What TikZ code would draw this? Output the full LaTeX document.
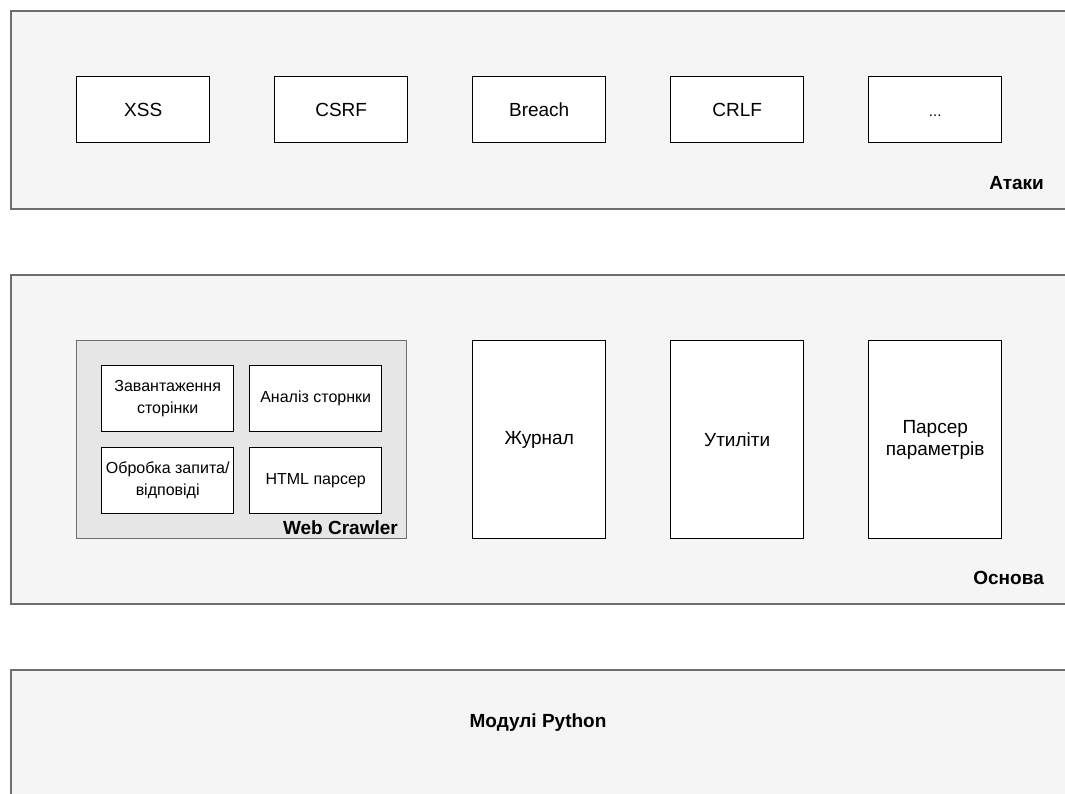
\documentclass[tikz,border=0pt]{standalone}
\usepackage{fontspec}
\setmainfont{Liberation Sans}
\definecolor{panelfill}{HTML}{F5F5F5}
\definecolor{panelline}{HTML}{6E6E6E}
\definecolor{groupfill}{HTML}{E6E6E6}
\begin{document}
\begin{tikzpicture}[x=1pt,y=-1pt,
  panel/.style={draw=panelline, fill=panelfill, line width=1.6pt, anchor=north west, inner sep=0pt},
  group/.style={draw=panelline, fill=groupfill, line width=1.4pt, anchor=north west, inner sep=0pt},
  box/.style={draw=black, fill=white, line width=1.4pt, anchor=north west, inner sep=0pt,
    align=center, font=\fontsize{19}{22}\selectfont},
  smallbox/.style={box, font=\fontsize{16}{22}\selectfont,
    minimum width=132, minimum height=66},
  topbox/.style={box, minimum width=133, minimum height=66},
  tallbox/.style={box, minimum width=133, minimum height=198},
  title/.style={inner sep=0pt, font=\fontsize{19}{22}\selectfont\bfseries}]
\useasboundingbox (0,0) rectangle (1065,793);
\clip (0,0) rectangle (1065,793);
\fill[white] (0,0) rectangle (1065,793);

% three layers
\node[panel, minimum width=1080, minimum height=198] (attacks) at (10,10) {};
\node[panel, minimum width=1080, minimum height=329] (core) at (10,274) {};
\node[panel, minimum width=1080, minimum height=200] (python) at (10,669) {};

% attack modules
\node[topbox] (xss) at (76,76) {XSS};
\node[topbox] (csrf) at (274,76) {CSRF};
\node[topbox] (breach) at (472,76) {Breach};
\node[topbox] (crlf) at (670,76) {CRLF};
\node[topbox] (more) at (868,76) {\vphantom{XSS}{\fontsize{15}{18}\selectfont ...}};
\node[title, anchor=base east] (attackslbl) at (1044,189) {Атаки};

% web crawler group
\node[group, minimum width=330, minimum height=198] (crawler) at (76,340) {};
\node[smallbox] (load) at (101,365) {Завантаження\\сторінки};
\node[smallbox] (analyse) at (249,365) {Аналіз сторнки};
\node[smallbox] (reqresp) at (101,447) {Обробка запита/\\відповіді};
\node[smallbox] (html) at (249,447) {HTML парсер};
\node[title, anchor=base east] (crawlerlbl) at (398,534) {Web Crawler};

% core modules
\node[tallbox] (journal) at (472,340) {Журнал};
\node[tallbox] (utils) at (670,340) {Утиліти};
\node[tallbox] (params) at (868,340) {Парсер\\параметрів};
\node[title, anchor=base east] (corelbl) at (1044,584) {Основа};

% python modules
\node[title, anchor=base] (pythonlbl) at (538,727) {Модулі Python};
\end{tikzpicture}
\end{document}
